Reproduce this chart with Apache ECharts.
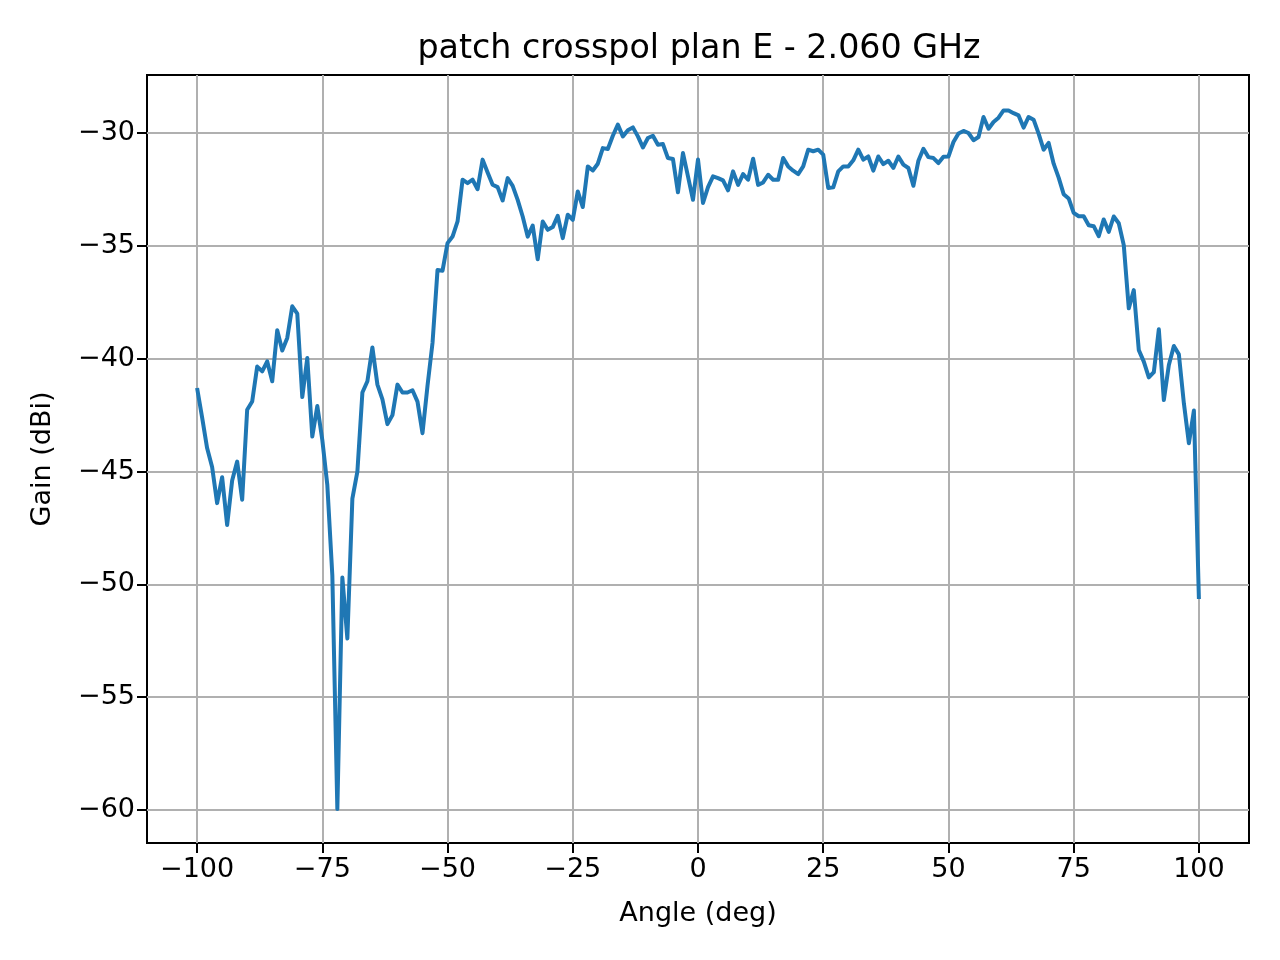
<!DOCTYPE html>
<html>

    <head>
        <meta charset="UTF-8">
        <title>patch crosspol plan E - 2.060 GHz</title>
        <style>
            html, body { margin: 0; padding: 0; background: #fff; }
            #container { width: 1280px; height: 960px; }
        </style>
    </head>

    <body>
        <div id="container"></div>
        <script type="text/javascript" src="https://cdn.jsdelivr.net/npm/echarts@6/dist/echarts.min.js"></script>
        <script>
            // angle samples (deg)
            var angles = [
                -100, -99, -98, -97, -96, -95, -94, -93, -92, -91,
                -90, -89, -88, -87, -86, -85, -84, -83, -82, -81,
                -80, -79, -78, -77, -76, -75, -74, -73, -72, -71,
                -70, -69, -68, -67, -66, -65, -64, -63, -62, -61,
                -60, -59, -58, -57, -56, -55, -54, -53, -52, -51,
                -50, -49, -48, -47, -46, -45, -44, -43, -42, -41,
                -40, -39, -38, -37, -36, -35, -34, -33, -32, -31,
                -30, -29, -28, -27, -26, -25, -24, -23, -22, -21,
                -20, -19, -18, -17, -16, -15, -14, -13, -12, -11,
                -10, -9, -8, -7, -6, -5, -4, -3, -2, -1,
                0, 1, 2, 3, 4, 5, 6, 7, 8, 9,
                10, 11, 12, 13, 14, 15, 16, 17, 18, 19,
                20, 21, 22, 23, 24, 25, 26, 27, 28, 29,
                30, 31, 32, 33, 34, 35, 36, 37, 38, 39,
                40, 41, 42, 43, 44, 45, 46, 47, 48, 49,
                50, 51, 52, 53, 54, 55, 56, 57, 58, 59,
                60, 61, 62, 63, 64, 65, 66, 67, 68, 69,
                70, 71, 72, 73, 74, 75, 76, 77, 78, 79,
                80, 81, 82, 83, 84, 85, 86, 87, 88, 89,
                90, 91, 92, 93, 94, 95, 96, 97, 98, 99,
                100
            ];
            // gain (dBi)
            var gain = [
                -41.3, -42.6, -43.96, -44.8, -46.4, -45.25, -47.37, -45.4, -44.56, -46.25,
                -42.26, -41.9, -40.35, -40.56, -40.12, -41.0, -38.74, -39.64, -39.08, -37.68,
                -38.0, -41.7, -39.97, -43.45, -42.1, -43.6, -45.6, -49.6, -59.95, -49.7,
                -52.4, -46.2, -45.0, -41.5, -41.0, -39.5, -41.15, -41.8, -42.9, -42.5,
                -41.15, -41.5, -41.5, -41.4, -41.9, -43.3, -41.2, -39.3, -36.07, -36.1,
                -34.88, -34.59, -33.92, -32.07, -32.22, -32.07, -32.49, -31.18, -31.75, -32.29,
                -32.4, -32.99, -32.0, -32.34, -32.96, -33.7, -34.59, -34.1, -35.59, -33.92,
                -34.29, -34.17, -33.67, -34.66, -33.62, -33.85, -32.59, -33.28, -31.48, -31.66,
                -31.36, -30.67, -30.71, -30.12, -29.63, -30.15, -29.88, -29.75, -30.15, -30.64,
                -30.22, -30.12, -30.52, -30.49, -31.11, -31.15, -32.63, -30.89, -31.92, -32.96,
                -31.17, -33.1, -32.4, -31.92, -32.0, -32.1, -32.54, -31.7, -32.3, -31.82,
                -32.07, -31.14, -32.3, -32.19, -31.85, -32.07, -32.07, -31.11, -31.48, -31.67,
                -31.82, -31.48, -30.74, -30.81, -30.74, -30.96, -32.44, -32.41, -31.7, -31.48,
                -31.48, -31.21, -30.74, -31.18, -31.04, -31.67, -31.04, -31.38, -31.23, -31.55,
                -31.04, -31.4, -31.55, -32.34, -31.23, -30.7, -31.07, -31.11, -31.33, -31.05,
                -31.04, -30.4, -30.02, -29.91, -30.0, -30.32, -30.18, -29.29, -29.81, -29.51,
                -29.32, -29.0, -29.0, -29.12, -29.22, -29.76, -29.29, -29.41, -30.03, -30.74,
                -30.44, -31.36, -31.98, -32.71, -32.9, -33.54, -33.69, -33.69, -34.09, -34.13,
                -34.57, -33.83, -34.38, -33.7, -34.0, -34.97, -37.77, -36.96, -39.62, -40.13,
                -40.83, -40.6, -38.7, -41.83, -40.28, -39.44, -39.81, -41.98, -43.75, -42.3,
                -50.65
            ];
            var xTicks = [-100, -75, -50, -25, 0, 25, 50, 75, 100];
            var yTicks = [-60, -55, -50, -45, -40, -35, -30];

            var fontFamily = 'DejaVu Sans';
            // matplotlib uses a real minus sign
            function fmt(v) {
                return String(v).replace('-', '\u2212');
            }

            var data = angles.map(function (a, i) { return [a, gain[i]]; });

            var myChart = echarts.init(document.getElementById('container'), null, { renderer: 'canvas' });
            myChart.setOption({
                animation: false,
                backgroundColor: '#fff',
                title: {
                    text: 'patch crosspol plan E - 2.060 GHz',
                    left: 694,
                    top: 28,
                    textAlign: 'center',
                    textStyle: {
                        fontFamily: fontFamily,
                        fontSize: 33.3,
                        fontWeight: 'normal',
                        color: '#000'
                    }
                },
                grid: {
                    left: 147,
                    right: 31,
                    top: 75,
                    bottom: 117,
                    show: true,
                    borderColor: '#000',
                    borderWidth: 2,
                    containLabel: false
                },
                xAxis: {
                    type: 'value',
                    min: -110,
                    max: 110,
                    name: 'Angle (deg)',
                    nameLocation: 'middle',
                    nameGap: 57,
                    nameTextStyle: { fontFamily: fontFamily, fontSize: 27, color: '#000' },
                    axisLine: { show: false, onZero: false },
                    axisTick: {
                        show: true,
                        inside: false,
                        length: 10,
                        customValues: xTicks,
                        lineStyle: { color: '#000', width: 2 }
                    },
                    axisLabel: {
                        customValues: xTicks,
                        margin: 13,
                        fontFamily: fontFamily,
                        fontSize: 27,
                        color: '#000',
                        formatter: fmt
                    },
                    splitLine: {
                        show: true,
                        lineStyle: { color: '#b0b0b0', width: 2 }
                    }
                },
                yAxis: {
                    type: 'value',
                    min: -61.46,
                    max: -27.43,
                    name: 'Gain (dBi)',
                    nameLocation: 'middle',
                    nameGap: 91,
                    nameTextStyle: { fontFamily: fontFamily, fontSize: 27, color: '#000' },
                    axisLine: { show: false, onZero: false },
                    axisTick: {
                        show: true,
                        inside: false,
                        length: 10,
                        customValues: yTicks,
                        lineStyle: { color: '#000', width: 2 }
                    },
                    axisLabel: {
                        customValues: yTicks,
                        margin: 12,
                        fontFamily: fontFamily,
                        fontSize: 27,
                        color: '#000',
                        formatter: fmt
                    },
                    splitLine: {
                        show: true,
                        lineStyle: { color: '#b0b0b0', width: 2 }
                    }
                },
                series: [
                    {
                        type: 'line',
                        data: data,
                        showSymbol: false,
                        lineStyle: { color: '#1f77b4', width: 4, join: 'round', cap: 'butt' },
                        itemStyle: { color: '#1f77b4' }
                    }
                ]
            });
        </script>
    </body>

</html>
